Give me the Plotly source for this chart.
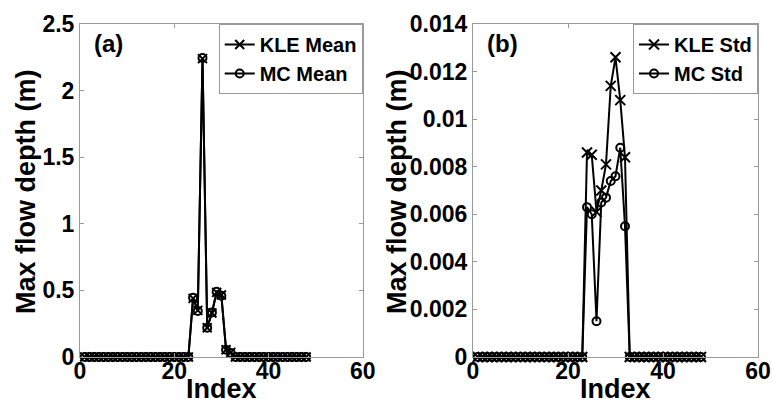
import plotly.graph_objects as go

index = list(range(1, 49))

kle_mean = [0.0]*23 + [0.44, 0.35, 2.24, 0.22, 0.33, 0.485, 0.465, 0.055, 0.035] + [0.0]*16
mc_mean  = [0.0]*23 + [0.445, 0.345, 2.245, 0.22, 0.335, 0.49, 0.46, 0.055, 0.03] + [0.0]*16

kle_std = [0.0]*23 + [0.0086, 0.0085, 0.0061, 0.0070, 0.0081, 0.0114, 0.0126, 0.0108, 0.0084] + [0.0]*16
mc_std  = [0.0]*23 + [0.0063, 0.0060, 0.0015, 0.0065, 0.0067, 0.0074, 0.0076, 0.0088, 0.0055] + [0.0]*16

left_yticks = [0, 0.5, 1, 1.5, 2, 2.5]
right_yticks = [0, 0.002, 0.004, 0.006, 0.008, 0.01, 0.012, 0.014]
xticks = [0, 20, 40, 60]

FONT = "Arial, Liberation Sans, sans-serif"
fig = go.Figure()

def add(x, y, name, sym, size, xa, ya, legend):
    fig.add_trace(go.Scatter(
        x=x, y=y, name=name, mode="lines+markers", xaxis=xa, yaxis=ya, legend=legend,
        line=dict(color="black", width=2),
        marker=dict(symbol=sym, size=size, color="black", line=dict(color="black", width=2)),
        cliponaxis=False,
    ))

add(index, kle_mean, "KLE Mean", "x-thin-open", 9, "x", "y", "legend")
add(index, mc_mean, "MC Mean", "circle-open", 8, "x", "y", "legend")
add(index, kle_std, "KLE Std", "x-thin-open", 10, "x2", "y2", "legend2")
add(index, mc_std, "MC Std", "circle-open", 8, "x2", "y2", "legend2")

L, R, T, B = 80, 14, 24, 51
W, H = 772, 408
pw = W - L - R
d1 = (362.7 - L) / pw
d2 = (473 - L) / pw

axis_common = dict(
    showline=True, linecolor="#9a9a9a", linewidth=1, mirror="ticks",
    ticks="inside", ticklen=4, tickcolor="#9a9a9a", showgrid=False, zeroline=False,
    automargin=False,
    tickfont=dict(family=FONT, size=23, color="black", weight="bold"),
)

fig.update_layout(
    template="none",
    width=W, height=H, margin=dict(l=L, r=R, t=T, b=B, autoexpand=False),
    plot_bgcolor="white", paper_bgcolor="white",
    xaxis=dict(domain=[0, d1], range=[0, 60], tickvals=xticks, anchor="y",
               ticklabelstandoff=-7, **axis_common),
    yaxis=dict(range=[0, 2.5], tickvals=left_yticks, anchor="x", **axis_common),
    xaxis2=dict(domain=[d2, 1], range=[0, 60], tickvals=xticks, anchor="y2",
                ticklabelstandoff=-7, **axis_common),
    yaxis2=dict(range=[0, 0.014], tickvals=right_yticks, anchor="x2", **axis_common),
    legend=dict(x=d1, xanchor="right", y=1, yanchor="top", xref="paper", yref="paper",
                bordercolor="#9a9a9a", borderwidth=1, bgcolor="white",
                font=dict(family=FONT, size=20, color="black", weight="bold"),
                itemwidth=30, tracegroupgap=0),
    legend2=dict(x=1, xanchor="right", y=1, yanchor="top", xref="paper", yref="paper",
                 bordercolor="#9a9a9a", borderwidth=1, bgcolor="white",
                 font=dict(family=FONT, size=20, color="black", weight="bold"),
                 itemwidth=30, tracegroupgap=0),
    showlegend=True,
)

def px_x(p):
    return (p - L) / pw
def px_y(p):
    return (H - B - p) / (H - T - B)

tf = dict(family=FONT, size=27, color="black", weight="bold")
ann = [
    dict(text="(a)", x=px_x(92), y=px_y(43), xanchor="left", yanchor="middle",
         font=dict(family=FONT, size=24, color="black", weight="bold")),
    dict(text="(b)", x=px_x(485), y=px_y(43), xanchor="left", yanchor="middle",
         font=dict(family=FONT, size=24, color="black", weight="bold")),
    dict(text="Index", x=px_x(221), y=px_y(389), xanchor="center", yanchor="middle", font=tf),
    dict(text="Index", x=px_x(615), y=px_y(389), xanchor="center", yanchor="middle", font=tf),
    dict(text="Max flow depth (m)", x=px_x(26), y=px_y(192), textangle=-90,
         xanchor="center", yanchor="middle", font=tf),
    dict(text="Max flow depth (m)", x=px_x(397), y=px_y(192), textangle=-90,
         xanchor="center", yanchor="middle", font=tf),
]
for a in ann:
    a.update(xref="paper", yref="paper", showarrow=False)
fig.update_layout(annotations=ann)

fig.write_html("out.html", config={"displayModeBar": False},
               post_script="document.body.style.margin='0';document.body.style.overflow='hidden';")
